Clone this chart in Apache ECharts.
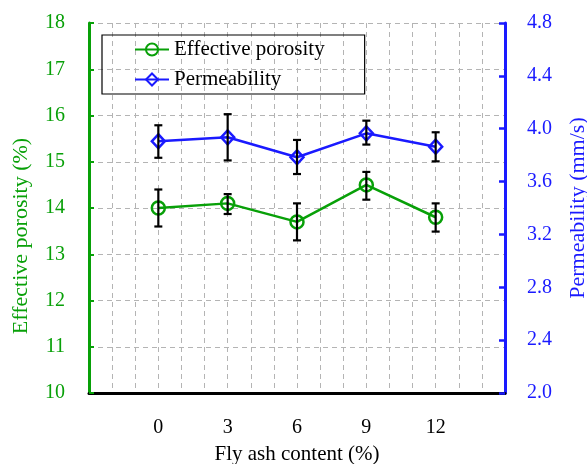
<!DOCTYPE html>
<html><head><meta charset="utf-8">
<script src="https://cdn.jsdelivr.net/npm/echarts@6/dist/echarts.min.js"></script>
<style>html,body{margin:0;padding:0;background:#fff;overflow:hidden}#c{width:587px;height:464px}</style>
</head><body><div id="c"></div>
<script>
const flyAsh = [0, 3, 6, 9, 12];
const xTickLabels = ['0', '3', '6', '9', '12'];
const porosity = [14.0, 14.1, 13.7, 14.5, 13.8];
const porosityLow = [13.6, 13.87, 13.3, 14.18, 13.49];
const porosityHigh = [14.4, 14.3, 14.1, 14.78, 14.1];
const permeability = [3.905, 3.935, 3.784, 3.965, 3.864];
const permLow = [3.78, 3.76, 3.657, 3.88, 3.753];
const permHigh = [4.026, 4.11, 3.915, 4.061, 3.973];

const GREEN = '#08a008', BLUE = '#1a1aff';
const FONT = 'Liberation Serif';

function errData(lo, hi) { return flyAsh.map((x, i) => [x, lo[i], hi[i]]); }
function errRender(params, api) {
  const x = api.value(0);
  const p1 = api.coord([x, api.value(1)]);
  const p2 = api.coord([x, api.value(2)]);
  const w = 4;
  const st = { stroke: '#000', lineWidth: 2.2 };
  return { type: 'group', children: [
    { type: 'line', shape: { x1: p1[0], y1: p1[1], x2: p2[0], y2: p2[1] }, style: st },
    { type: 'line', shape: { x1: p1[0] - w, y1: p1[1], x2: p1[0] + w, y2: p1[1] }, style: st },
    { type: 'line', shape: { x1: p2[0] - w, y1: p2[1], x2: p2[0] + w, y2: p2[1] }, style: st }
  ]};
}

const chart = echarts.init(document.getElementById('c'));
chart.setOption({
  animation: false,
  textStyle: { fontFamily: FONT },
  grid: { left: 89, right: 82, top: 23, bottom: 71, outerBoundsMode: 'none', containLabel: false },
  legend: {
    orient: 'vertical', left: 102, top: 35,
    borderColor: '#000', borderWidth: 1.2, padding: [4, 40, 4, 32],
    itemWidth: 34, itemHeight: 15, itemGap: 9,
    textStyle: { fontFamily: FONT, fontSize: 21, color: '#000' },
    data: ['Effective porosity', 'Permeability']
  },
  xAxis: {
    type: 'value', min: -3, max: 15, interval: 1,
    name: 'Fly ash content (%)', nameLocation: 'middle', nameGap: 51,
    nameTextStyle: { fontFamily: FONT, fontSize: 21, color: '#000' },
    axisLine: { show: true, onZero: false, lineStyle: { color: '#000', width: 3 } },
    axisTick: { show: false },
    axisLabel: {
      margin: 25, fontFamily: FONT, fontSize: 20, color: '#000',
      formatter: v => { const i = flyAsh.indexOf(v); return i >= 0 ? xTickLabels[i] : ''; }
    },
    splitLine: { show: true, lineStyle: { color: '#b4b4b4', type: [5, 4], width: 1 } }
  },
  yAxis: [{
    type: 'value', min: 10, max: 18, interval: 1, position: 'left',
    name: 'Effective porosity (%)', nameLocation: 'middle', nameGap: 57,
    nameTextStyle: { fontFamily: FONT, fontSize: 22, color: GREEN, padding: [0, 56, 0, 0] },
    axisLine: { show: true, onZero: false, lineStyle: { color: GREEN, width: 3 } },
    axisTick: { show: true, inside: true, length: 5, lineStyle: { color: GREEN, width: 2 } },
    axisLabel: { margin: 24, fontFamily: FONT, fontSize: 20, color: GREEN },
    splitLine: { show: true, lineStyle: { color: '#b4b4b4', type: [5, 4], width: 1 } }
  }, {
    type: 'value', min: 2.0, max: 4.8, interval: 0.4, position: 'right',
    name: 'Permeability (mm/s)', nameLocation: 'middle', nameGap: 62,
    nameTextStyle: { fontFamily: FONT, fontSize: 22, color: BLUE },
    axisLine: { show: true, onZero: false, lineStyle: { color: BLUE, width: 3 } },
    axisTick: { show: true, inside: true, length: 6, lineStyle: { color: BLUE, width: 2.5 } },
    axisLabel: { margin: 22, fontFamily: FONT, fontSize: 20, color: BLUE, formatter: v => v.toFixed(1) },
    splitLine: { show: false }
  }],
  series: [{
    name: 'Effective porosity', type: 'line', yAxisIndex: 0,
    data: flyAsh.map((x, i) => [x, porosity[i]]),
    symbol: 'circle', symbolSize: 13,
    lineStyle: { color: GREEN, width: 2.5 },
    itemStyle: { color: 'rgba(255,255,255,0)', borderColor: GREEN, borderWidth: 2.5 },
    z: 3
  }, {
    name: 'Permeability', type: 'line', yAxisIndex: 1,
    data: flyAsh.map((x, i) => [x, permeability[i]]),
    symbol: 'diamond', symbolSize: [13, 14],
    lineStyle: { color: BLUE, width: 2.5 },
    itemStyle: { color: 'rgba(255,255,255,0)', borderColor: BLUE, borderWidth: 2.5 },
    z: 3
  }, {
    type: 'custom', yAxisIndex: 0, data: errData(porosityLow, porosityHigh),
    renderItem: errRender, z: 4, silent: true
  }, {
    type: 'custom', yAxisIndex: 1, data: errData(permLow, permHigh),
    renderItem: errRender, z: 4, silent: true
  }]
});
</script></body></html>
